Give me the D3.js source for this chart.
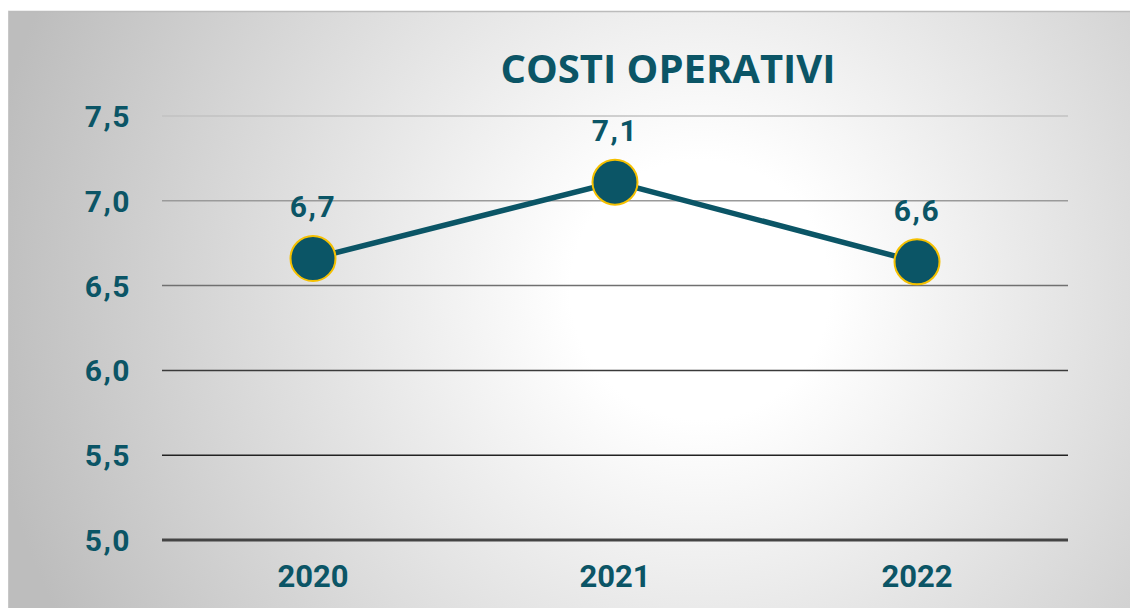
<!DOCTYPE html>
<html><head><meta charset="utf-8">
<script src="https://cdn.jsdelivr.net/npm/d3@7"></script>
<style>body{margin:0;background:#fff}svg{display:block}</style>
</head><body>
<svg id="c" width="1130" height="608"></svg>
<script>
const title = "COSTI OPERATIVI";
const categories = ["2020", "2021", "2022"];
const values = [6.66, 7.11, 6.64];
const yTicks = [5.0, 5.5, 6.0, 6.5, 7.0, 7.5];
const gridColors = ["#444444", "#222222", "#3a3a3a", "#707070", "#9a9a9a", "#c2c2c2"];

const svg = d3.select("#c");
const W = 1130, H = 608;
const M = {left: 162, right: 1068, top: 116, bottom: 540};
const teal = "#0b5566";
const fmt = v => d3.format(".1f")(v).replace(".", ",");

const defs = svg.append("defs");
const rg = defs.append("radialGradient").attr("id", "bg")
  .attr("gradientUnits", "userSpaceOnUse")
  .attr("cx", 700).attr("cy", 290).attr("r", 720);
rg.append("stop").attr("offset", 0).attr("stop-color", "#ffffff");
rg.append("stop").attr("offset", 0.18).attr("stop-color", "#ffffff");
rg.append("stop").attr("offset", 1).attr("stop-color", "#bdbdbd");

svg.append("rect").attr("x", 8).attr("y", 11).attr("width", W - 8).attr("height", H - 11)
  .attr("fill", "url(#bg)");
svg.append("line").attr("x1", 8).attr("x2", W).attr("y1", 11.5).attr("y2", 11.5)
  .attr("stroke", "#bcbcbc").attr("stroke-width", 1.5);
svg.append("line").attr("x1", 8.5).attr("x2", 8.5).attr("y1", 11).attr("y2", H)
  .attr("stroke", "#c8c8c8").attr("stroke-width", 1);

const x = d3.scaleBand().domain(categories).range([M.left, M.right]);
const y = d3.scaleLinear().domain([5, 7.5]).range([M.bottom, M.top]);

const numFont = "Roboto, 'Open Sans', sans-serif";
const titleFont = "'Open Sans', Lato, sans-serif";

// grid
yTicks.forEach((t, i) => {
  svg.append("line").attr("x1", M.left).attr("x2", M.right)
    .attr("y1", y(t)).attr("y2", y(t))
    .attr("stroke", gridColors[i]).attr("stroke-width", t === 5 ? 3 : 1.5);
});

// y axis labels
const yAxis = d3.axisLeft(y).tickValues(yTicks).tickFormat(fmt).tickSize(0).tickPadding(31);
const gy = svg.append("g").attr("transform", `translate(${M.left},0)`).call(yAxis);
gy.select(".domain").remove();
gy.selectAll("text").attr("fill", teal).attr("font-family", numFont)
  .attr("font-weight", "bold").attr("font-size", 30).attr("letter-spacing", 1.5)
  .attr("dy", "0.35em");

// x axis labels
const xAxis = d3.axisBottom(x).tickSize(0).tickPadding(25);
const gx = svg.append("g").attr("transform", `translate(0,${M.bottom})`).call(xAxis);
gx.select(".domain").remove();
gx.selectAll("text").attr("fill", teal).attr("font-family", numFont)
  .attr("font-weight", "bold").attr("font-size", 31);

// line
const pts = categories.map((c, i) => [x(c) + x.bandwidth() / 2, y(values[i])]);
svg.append("path").attr("d", d3.line()(pts)).attr("fill", "none")
  .attr("stroke", teal).attr("stroke-width", 5.5);
svg.selectAll("circle.m").data(pts).enter().append("circle")
  .attr("cx", d => d[0]).attr("cy", d => d[1]).attr("r", 22.5)
  .attr("fill", teal).attr("stroke", "#f5c000").attr("stroke-width", 2);

// data labels
svg.selectAll("text.dl").data(values).enter().append("text")
  .attr("x", (d, i) => pts[i][0]).attr("y", (d, i) => pts[i][1] - 41)
  .attr("text-anchor", "middle").attr("fill", teal).attr("font-family", numFont)
  .attr("font-weight", "bold").attr("font-size", 30).attr("letter-spacing", 1.5).text(fmt);

// title
svg.append("text").attr("x", 668).attr("y", 83).attr("text-anchor", "middle")
  .attr("fill", teal).attr("font-family", titleFont).attr("font-weight", "bold")
  .attr("font-size", 40).text(title);
</script>
</body></html>
